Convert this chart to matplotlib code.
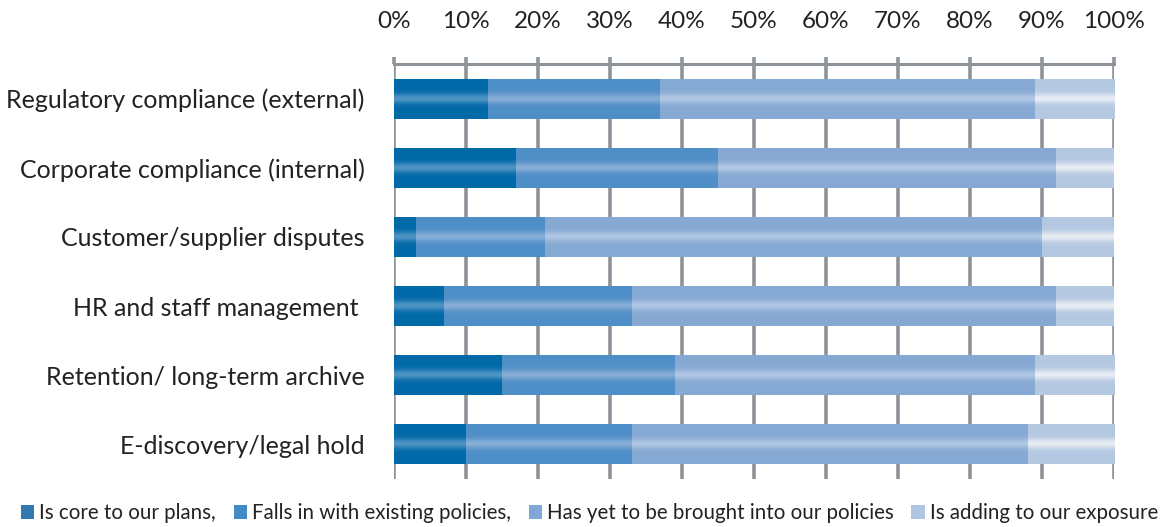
import numpy as np
import matplotlib
matplotlib.use("Agg")
import matplotlib.pyplot as plt
from matplotlib.patches import Patch
from matplotlib.colors import to_rgb

categories = [
    "Regulatory compliance (external)",
    "Corporate compliance (internal)",
    "Customer/supplier disputes",
    "HR and staff management ",
    "Retention/ long-term archive",
    "E-discovery/legal hold",
]
series_names = [
    "Is core to our plans,",
    "Falls in with existing policies,",
    "Has yet to be brought into our policies",
    "Is adding to our exposure",
]
core = [13, 17, 3, 7, 15, 10]
falls_in = [24, 28, 18, 26, 24, 23]
yet_to_be = [52, 47, 69, 59, 50, 55]
adding = [11, 8, 10, 8, 11, 12]
x_ticks = [0, 10, 20, 30, 40, 50, 60, 70, 80, 90, 100]

base_colors = ["#0069a8", "#4f8fc7", "#86a9d3", "#b4c8e2"]
shine_colors = ["#4f95c4", "#88aed7", "#b0c7e4", "#e8edf3"]
legend_colors = ["#2f7aae", "#3f8cc8", "#7fa8d4", "#b0c6e0"]
grid_color = "#8d9399"

plt.rcParams["font.family"] = ["Lato", "DejaVu Sans"]

fig = plt.figure(figsize=(11.68, 5.27), dpi=100)
ax = fig.add_axes([394 / 1168, 48 / 527, 720 / 1168, 415 / 527])

y = np.arange(len(categories))
bar_h = 0.58
series = [core, falls_in, yet_to_be, adding]


def gradient(base, shine, n=64):
    t = np.linspace(0, 1, n)
    w = np.exp(-((t - 0.5) / 0.12) ** 2)
    b = np.array(to_rgb(base))
    s = np.array(to_rgb(shine))
    img = b[None, :] * (1 - w[:, None]) + s[None, :] * w[:, None]
    return img[:, None, :]


left = np.zeros(len(categories))
for vals, bc, sc in zip(series, base_colors, shine_colors):
    vals = np.array(vals, dtype=float)
    bars = ax.barh(y, vals, left=left, height=bar_h, color=bc, zorder=2)
    img = gradient(bc, sc)
    for rect in bars:
        x0, y0 = rect.get_x(), rect.get_y()
        im = ax.imshow(img, extent=(x0, x0 + rect.get_width(), y0 + rect.get_height(), y0),
                       aspect="auto", interpolation="bilinear", zorder=3)
        im.set_clip_path(rect)
    left += vals

ax.set_xlim(0, 100)
ax.set_ylim(len(categories) - 0.5, -0.5)
ax.set_xticks(x_ticks)
ax.set_xticklabels([f"{v}%" for v in x_ticks])
ax.set_yticks(y)
ax.set_yticklabels(categories)

ax.xaxis.tick_top()
ax.tick_params(axis="x", length=5, width=2.6, color=grid_color, pad=18,
               labelsize=17.5, labelcolor="#222222")
ax.tick_params(axis="y", length=0, pad=21, labelsize=18, labelcolor="#222222")
ax.grid(axis="x", color=grid_color, linewidth=2.6, zorder=0)
ax.set_axisbelow(True)
for side in ["left", "right", "bottom"]:
    ax.spines[side].set_visible(False)
ax.spines["top"].set_color(grid_color)
ax.spines["top"].set_linewidth(2.2)

handles = [Patch(facecolor=c, edgecolor="none") for c in legend_colors]
fig.legend(handles, series_names, loc="lower left", bbox_to_anchor=(0.002, -0.028),
           ncol=4, frameon=False, fontsize=14.8, handlelength=0.65, handleheight=0.65,
           handletextpad=0.25, columnspacing=0.85, labelcolor="#222222")

fig.savefig("out.png", dpi=100)
